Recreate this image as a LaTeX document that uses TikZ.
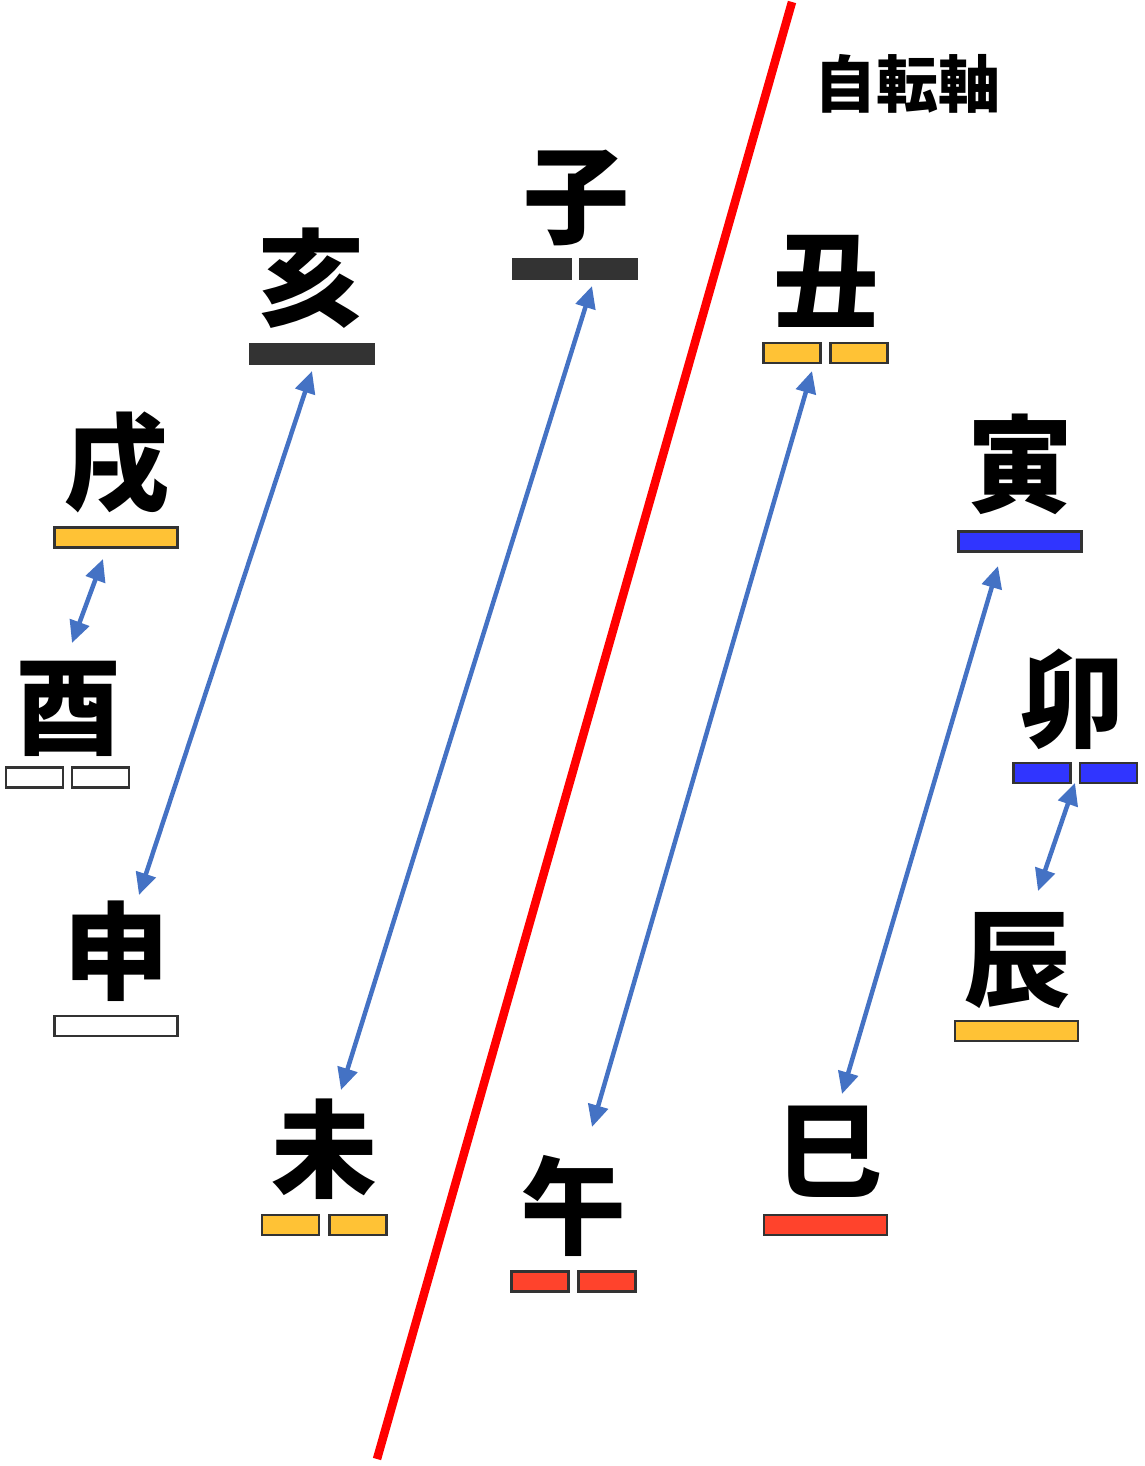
\documentclass[tikz,border=0pt]{standalone}
\usepackage{fontspec}
\newfontfamily\cjk{Noto Sans CJK JP}
\usetikzlibrary{arrows.meta}
\definecolor{barline}{HTML}{333333}
\definecolor{baryel}{HTML}{FFC235}
\definecolor{barblue}{HTML}{3035FF}
\definecolor{barred}{HTML}{FF432C}
\definecolor{bardark}{HTML}{333333}
\definecolor{arrblue}{HTML}{4472C4}
\definecolor{axisred}{HTML}{FF0000}
\tikzset{
  branch/.style={inner sep=0pt, font=\cjk\bfseries\fontsize{106}{106}\selectfont, text height=93.3pt, text depth=12.7pt},
  bar/.style={draw=barline, line width=2.5pt, inner sep=0pt, minimum height=20pt},
  sbar/.style={bar, minimum width=57pt},
  lbar/.style={bar, minimum width=123pt},
  link/.style={draw=arrblue, line width=4.5pt, {Triangle[length=22pt,width=20pt]}-{Triangle[length=22pt,width=20pt]}},
  axis/.style={draw=axisred, line width=8.5pt}
}
\begin{document}
\begin{tikzpicture}[x=1pt,y=-1pt]
\useasboundingbox (0,0) rectangle (1144,1466);
% axis
\coordinate (axtop) at (792,2);
\coordinate (axbot) at (377,1459);
\draw[axis] (axtop) -- (axbot);
\node[inner sep=0pt, font=\cjk\bfseries\fontsize{62}{62}\selectfont, text height=54.6pt, text depth=7.4pt] (axlabel) at (907,84) {自転軸};
% branches
\node[branch] (ne) at (576,195) {子};
\node[branch] (ushi) at (826,280) {丑};
\node[branch] (tora) at (1020,464) {寅};
\node[branch] (u) at (1072,699) {卯};
\node[branch] (tatsu) at (1017,958) {辰};
\node[branch] (mi) at (829,1150) {巳};
\node[branch] (uma) at (573,1206) {午};
\node[branch] (hitsuji) at (324,1149) {未};
\node[branch] (saru) at (116,951) {申};
\node[branch] (tori) at (68,706) {酉};
\node[branch] (inu) at (116,462) {戌};
\node[branch] (i) at (311,278) {亥};
% bars
\node[sbar, fill=bardark] (neL) at (542,269) {};
\node[sbar, fill=bardark] (neR) at (608.5,269) {};
\node[lbar, fill=bardark] (iB) at (312,354) {};
\node[sbar, fill=baryel] (ushiL) at (792,353) {};
\node[sbar, fill=baryel] (ushiR) at (859,353) {};
\node[lbar, fill=baryel] (inuB) at (116,537.5) {};
\node[lbar, fill=barblue] (toraB) at (1020,541.5) {};
\node[sbar, fill=white] (toriL) at (34.5,777.5) {};
\node[sbar, fill=white] (toriR) at (100.5,777.5) {};
\node[sbar, fill=barblue] (uL) at (1042,773) {};
\node[sbar, fill=barblue] (uR) at (1108.5,773) {};
\node[lbar, fill=white] (saruB) at (116,1026) {};
\node[lbar, fill=baryel] (tatsuB) at (1016.5,1031) {};
\node[sbar, fill=baryel] (hitsujiL) at (290.5,1225) {};
\node[sbar, fill=baryel] (hitsujiR) at (358,1225) {};
\node[lbar, fill=barred] (miB) at (825.5,1225) {};
\node[sbar, fill=barred] (umaL) at (540,1281.5) {};
\node[sbar, fill=barred] (umaR) at (607,1281.5) {};
% arrow ends
\coordinate (a1s) at (312,371);  \coordinate (a1e) at (139,895);
\coordinate (a2s) at (592,286);  \coordinate (a2e) at (341,1090);
\coordinate (a3s) at (812,371);  \coordinate (a3e) at (592,1127);
\coordinate (a4s) at (998,566);  \coordinate (a4e) at (842,1094);
\coordinate (a5s) at (103,559);  \coordinate (a5e) at (72,643);
\coordinate (a6s) at (1075,783); \coordinate (a6e) at (1038,891);
\draw[link] (a1s) -- (a1e);
\draw[link] (a2s) -- (a2e);
\draw[link] (a3s) -- (a3e);
\draw[link] (a4s) -- (a4e);
\draw[link] (a5s) -- (a5e);
\draw[link] (a6s) -- (a6e);
\end{tikzpicture}
\end{document}
